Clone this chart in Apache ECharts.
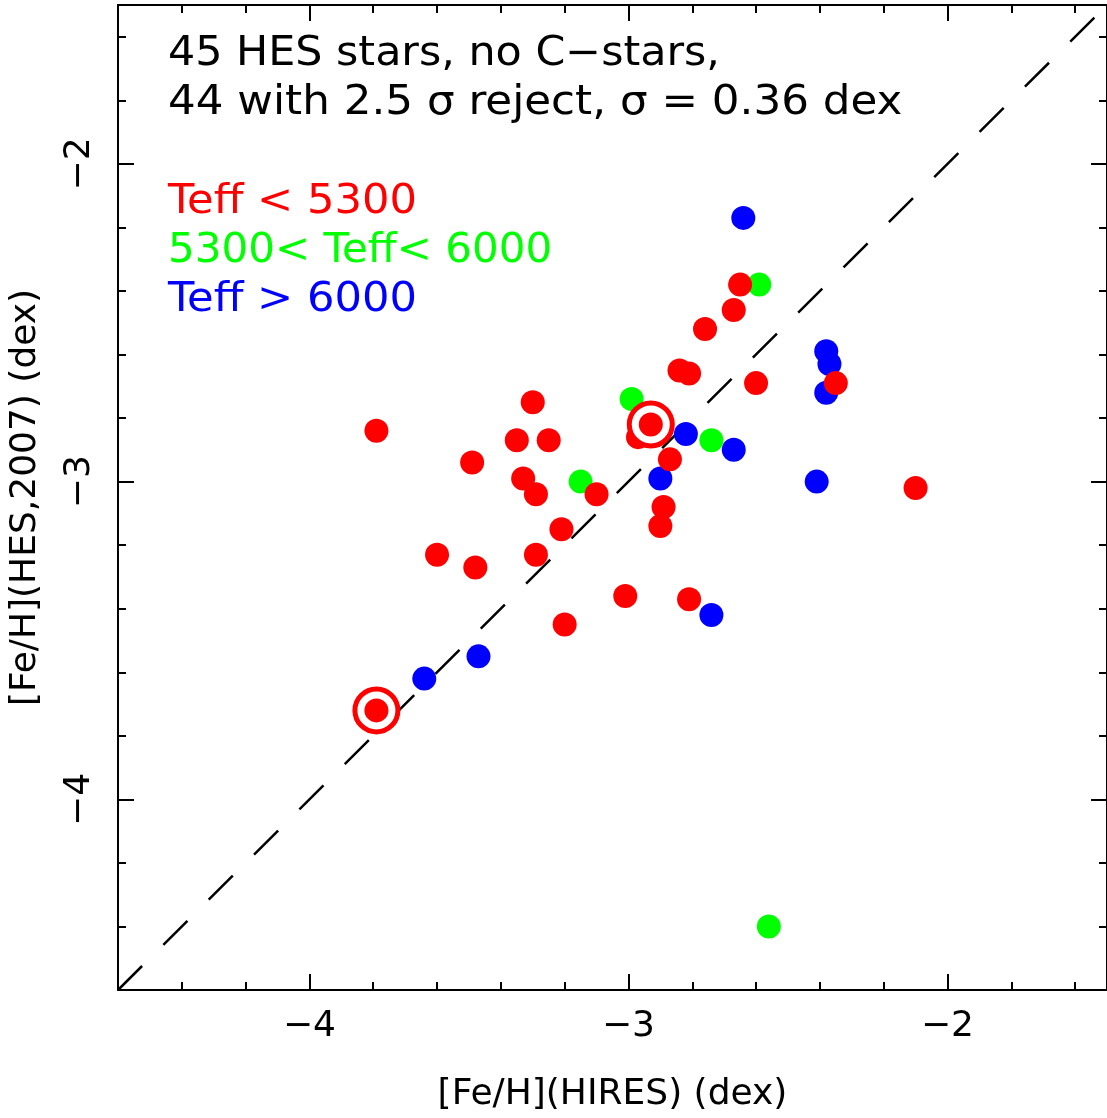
<!DOCTYPE html>
<html>
<head>
<meta charset="utf-8">
<script src="https://cdn.jsdelivr.net/npm/echarts@6/dist/echarts.min.js"></script>
<style>
html,body{margin:0;padding:0;background:#fff;}
#chart{width:1107px;height:1118px;}
</style>
</head>
<body>
<div id="chart"></div>
<script>
// ---- data ----
const redX = [-3.79, -3.79, -3.60, -3.49, -3.48, -3.30, -3.35, -3.25, -3.33, -3.29, -3.29, -3.21, -3.20, -3.10, -3.01, -2.97, -2.93, -2.87, -2.89, -2.90, -2.84, -2.81, -2.81, -2.76, -2.67, -2.65, -2.60, -2.35, -2.10];
const redY = [-2.84, -3.72, -3.23, -2.94, -3.27, -2.75, -2.87, -2.87, -2.99, -3.04, -3.23, -3.15, -3.45, -3.04, -3.36, -2.86, -2.82, -2.93, -3.08, -3.14, -2.65, -2.66, -3.37, -2.52, -2.46, -2.38, -2.69, -2.69, -3.02];
const greenX = [-3.15, -2.99, -2.74, -2.59, -2.56];
const greenY = [-3.00, -2.74, -2.87, -2.38, -4.40];
const blueX = [-3.64, -3.47, -2.90, -2.82, -2.74, -2.67, -2.64, -2.41, -2.38, -2.37, -2.38];
const blueY = [-3.62, -3.55, -2.99, -2.85, -3.42, -2.90, -2.17, -3.00, -2.59, -2.63, -2.72];
const ringX = [-3.79, -2.93];
const ringY = [-3.72, -2.82];
const diagX = [-4.6, -1.5];
const diagY = [-4.6, -1.5];
const majorTicks = [-4, -3, -2];
const minorTicks = [-4.4, -4.2, -3.8, -3.6, -3.4, -3.2, -2.8, -2.6, -2.4, -2.2, -1.8, -1.6];
const xName = '[Fe/H](HIRES) (dex)';
const yName = '[Fe/H](HES,2007) (dex)';
const noteLines = ['45 HES stars, no C\u2212stars,', '44 with 2.5 \u03c3 reject, \u03c3 = 0.36 dex'];
const legendLines = ['Teff < 5300', '5300< Teff< 6000', 'Teff > 6000'];

// ---- chart ----
const FONT = 'DejaVu Sans';
const zip = (a, b) => a.map((v, i) => [v, b[i]]);
const fmt = v => String(v).replace('-', '\u2212');

function axis(pos, opts) {
  return Object.assign({
    type: 'value', min: -4.6, max: -1.5, position: pos,
    splitLine: { show: false },
    axisLine: { show: true, onZero: false, lineStyle: { color: '#000', width: 2 } },
    axisTick: { show: false },
    axisLabel: { show: false }
  }, opts);
}
function ticks(vals, len) {
  return { show: true, inside: true, length: len, customValues: vals, lineStyle: { color: '#000', width: 2 } };
}
function note(text, y, sx, color) {
  return { type: 'text', x: 168, y: y, scaleX: sx, z: 10,
    style: { text: text, fontSize: 40, fontFamily: FONT, fill: color, align: 'left', verticalAlign: 'middle' } };
}

const chart = echarts.init(document.getElementById('chart'), null, { renderer: 'canvas' });
chart.setOption({
  animation: false,
  backgroundColor: '#fff',
  grid: { left: 117, top: 5, width: 990, height: 990, containLabel: false },
  xAxis: [
    axis('bottom', {
      axisTick: ticks(majorTicks, 16),
      axisLabel: { show: true, customValues: majorTicks, formatter: fmt, fontSize: 36, fontFamily: FONT, color: '#000', margin: 19 },
      name: xName, nameLocation: 'middle', nameGap: 87,
      nameTextStyle: { fontSize: 36, fontFamily: FONT, color: '#000' }
    }),
    axis('bottom', { axisLine: { show: false }, axisTick: ticks(minorTicks, 8) }),
    axis('top', { axisTick: ticks(majorTicks, 16) }),
    axis('top', { axisLine: { show: false }, axisTick: ticks(minorTicks, 8) })
  ],
  yAxis: [
    axis('left', {
      axisTick: ticks(majorTicks, 16),
      axisLabel: { show: true, customValues: majorTicks, formatter: fmt, rotate: 90, fontSize: 36, fontFamily: FONT, color: '#000', margin: 20 },
      name: yName, nameLocation: 'middle', nameGap: 74, nameRotate: 90,
      nameTextStyle: { fontSize: 36, fontFamily: FONT, color: '#000' }
    }),
    axis('left', { axisLine: { show: false }, axisTick: ticks(minorTicks, 8) }),
    axis('right', { axisTick: ticks(majorTicks, 16) }),
    axis('right', { axisLine: { show: false }, axisTick: ticks(minorTicks, 8) })
  ],
  series: [
    { type: 'line', data: zip(diagX, diagY), symbol: 'none', silent: true, z: 1,
      lineStyle: { color: '#000', width: 2.5, type: [34, 30] } },
    { type: 'scatter', data: zip(blueX, blueY), symbol: 'circle', symbolSize: 24, z: 2,
      itemStyle: { color: '#0000ff', opacity: 1 } },
    { type: 'scatter', data: zip(greenX, greenY), symbol: 'circle', symbolSize: 24, z: 2,
      itemStyle: { color: '#00ff00', opacity: 1 } },
    { type: 'scatter', data: zip(redX, redY), symbol: 'circle', symbolSize: 24, z: 2,
      itemStyle: { color: '#ff0000', opacity: 1 } },
    { type: 'scatter', data: zip(ringX, ringY), symbol: 'circle', symbolSize: 43, z: 3,
      itemStyle: { color: '#ffffff', borderColor: '#ff0000', borderWidth: 5, opacity: 1 } },
    { type: 'scatter', data: zip(ringX, ringY), symbol: 'circle', symbolSize: 24, z: 4,
      itemStyle: { color: '#ff0000', opacity: 1 } }
  ],
  graphic: [
    note(noteLines[0], 55, 1.07, '#000'),
    note(noteLines[1], 104, 1.09, '#000'),
    note(legendLines[0], 203, 1.08, '#ff0000'),
    note(legendLines[1], 252, 1.05, '#00ff00'),
    note(legendLines[2], 301, 1.08, '#0000ff')
  ]
});
</script>
</body>
</html>
